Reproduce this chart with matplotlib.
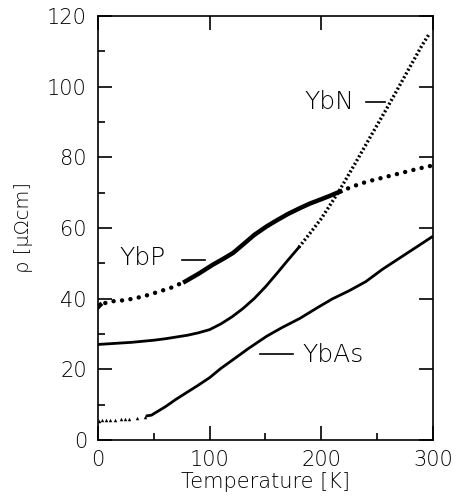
import matplotlib
matplotlib.use("Agg")
import matplotlib.pyplot as plt
import numpy as np

# YbP
ybp_t = [0, 2, 5, 12, 20, 27, 35, 45, 55, 65, 78, 90, 103, 112, 121, 130, 140, 151, 160,
         170, 181, 190, 200, 208, 217, 225, 235, 245, 255, 265, 275, 285, 293, 299]
ybp_r = [37.6, 38.2, 38.6, 39.2, 39.4, 39.7, 40.2, 41.0, 42.0, 43.0, 44.8, 47.0, 49.6,
         51.2, 52.9, 55.3, 58.0, 60.4, 62.1, 63.9, 65.6, 66.9, 68.1, 69.1, 70.3, 71.3,
         72.5, 73.4, 74.2, 75.0, 75.8, 76.6, 77.2, 77.6]

# YbN
ybn_t = [0, 10, 20, 30, 40, 50, 60, 70, 80, 90, 100, 110, 120, 130, 140, 150, 160, 170,
         180, 190, 200, 215, 230, 245, 260, 275, 290, 297]
ybn_r = [27.0, 27.2, 27.4, 27.6, 27.9, 28.2, 28.6, 29.1, 29.6, 30.3, 31.2, 32.8, 34.8,
         37.2, 40.0, 43.3, 47.0, 50.8, 54.5, 58.5, 62.6, 69.9, 78.0, 86.3, 94.5, 103.0,
         111.5, 115.0]

# YbAs
ybas_pts_t = [1, 3.3, 6.8, 10.7, 15.2, 20.2, 23.8, 27.4, 34.6, 42.0]
ybas_pts_r = [5.4, 5.5, 5.6, 5.6, 5.7, 5.8, 5.9, 5.9, 6.3, 6.4]
ybas_t = [44, 48, 50, 60, 70, 80, 90, 100, 110, 121, 135, 151, 165, 181, 196, 210, 225,
          240, 255, 270, 285, 299]
ybas_r = [6.8, 7.0, 7.4, 9.3, 11.5, 13.5, 15.5, 17.6, 20.2, 22.7, 25.9, 29.3, 31.8, 34.4,
          37.3, 39.9, 42.2, 44.8, 48.3, 51.4, 54.5, 57.4]

plt.rcParams["font.family"] = ["DejaVu Sans"]
plt.rcParams["font.weight"] = "light"

fig = plt.figure(figsize=(4.58, 4.97), dpi=100)
ax = fig.add_axes([0.214, 0.115, 0.731, 0.853])

t = np.array(ybp_t)
r = np.array(ybp_r)
dots = (0, (0.01, 1.9))
lo = t <= 80
mid = (t >= 78) & (t <= 217)
hi = t >= 217
ax.plot(t[t <= 3], r[t <= 3], "k-", lw=3.2)
ax.plot(t[lo], r[lo], color="k", lw=3.2, linestyle=dots, dash_capstyle="round")
ax.plot(t[mid], r[mid], "k-", lw=3.2)
ax.plot(t[hi], r[hi], color="k", lw=3.2, linestyle=dots, dash_capstyle="round")

t = np.array(ybn_t)
r = np.array(ybn_r)
ax.plot(t[t <= 182], r[t <= 182], "k-", lw=2.0)
ax.plot(t[t >= 180], r[t >= 180], color="k", lw=2.4, linestyle=(0, (0.6, 0.7)))

ax.plot(ybas_pts_t, ybas_pts_r, "k^", ms=2.5, mew=0)
ax.plot(ybas_t, ybas_r, "k-", lw=2.0)

ax.set_xlim(0, 300)
ax.set_ylim(0, 120)
ax.set_xticks([0, 100, 200, 300])
ax.set_yticks([0, 20, 40, 60, 80, 100, 120])
ax.set_xticks([50, 150, 250], minor=True)
ax.set_yticks(np.arange(10, 120, 20), minor=True)
ax.tick_params(which="major", direction="in", length=10, width=1.2,
               top=True, right=True, labelsize=15)
ax.tick_params(axis="x", which="major", pad=7)
ax.tick_params(axis="y", which="major", pad=8)
ax.tick_params(which="minor", direction="in", length=5, width=1.2,
               top=False, right=False)
for s in ax.spines.values():
    s.set_linewidth(1.2)

ax.set_xlabel("Temperature [K]", fontsize=15, fontweight="light", labelpad=2)
ax.set_ylabel("ρ [μΩcm]", fontsize=14, fontweight="light", labelpad=10)

ax.text(19, 51.5, "YbP", fontsize=18, va="center")
ax.plot([75, 96], [51, 51], "k-", lw=1.2)
ax.text(185, 95.5, "YbN", fontsize=18, va="center")
ax.plot([240, 257], [95.5, 95.5], "k-", lw=1.2)
ax.plot([145, 175], [24.2, 24.2], "k-", lw=1.2)
ax.text(183, 24, "YbAs", fontsize=18, va="center")

fig.savefig("out.png", dpi=100)
